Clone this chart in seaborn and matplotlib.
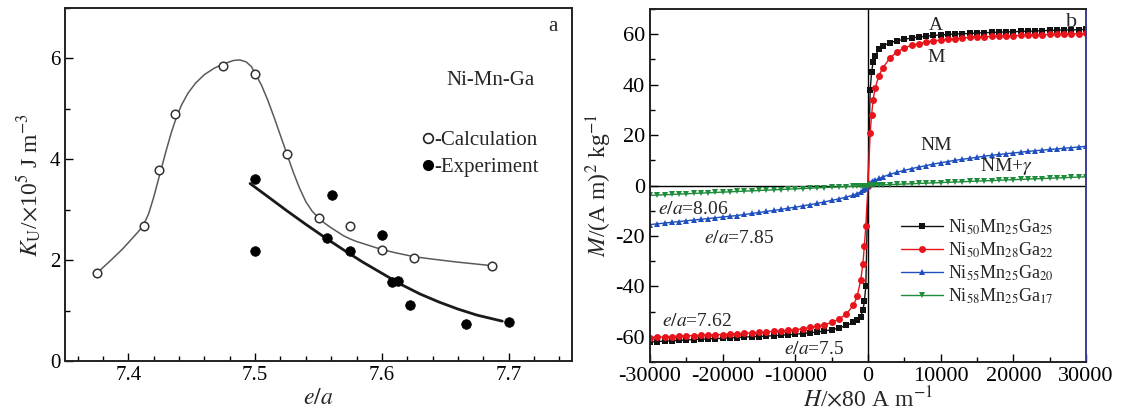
import matplotlib
matplotlib.use('Agg')
import matplotlib.pyplot as plt
import seaborn as sns
import pandas as pd
from matplotlib.lines import Line2D
from matplotlib.ticker import MultipleLocator

# ---------------- data: panel a ----------------
calc_x = [7.375, 7.4127, 7.4245, 7.437, 7.4746, 7.500, 7.525, 7.550, 7.575, 7.600, 7.625, 7.687]
calc_y = [1.74, 2.68, 3.79, 4.90, 5.85, 5.69, 4.10, 2.84, 2.68, 2.20, 2.05, 1.89]

exp_x = [7.500, 7.500, 7.5605, 7.557, 7.575, 7.600, 7.608, 7.613, 7.622, 7.666, 7.700]
exp_y = [3.60, 2.18, 3.29, 2.44, 2.18, 2.50, 1.56, 1.59, 1.12, 0.73, 0.78]

calc_fit_x = [7.375, 7.385, 7.395, 7.403, 7.408, 7.412, 7.416, 7.420, 7.425, 7.430,
              7.434, 7.438, 7.442, 7.447, 7.453, 7.460, 7.468, 7.476, 7.483, 7.488,
              7.493, 7.497, 7.501, 7.505, 7.510, 7.515, 7.520, 7.525, 7.530, 7.535,
              7.540, 7.545, 7.550, 7.555, 7.560, 7.565, 7.570, 7.575, 7.580, 7.590,
              7.600, 7.610, 7.625, 7.640, 7.660, 7.687]
calc_fit_y = [1.74, 1.97, 2.21, 2.43, 2.57, 2.70, 2.92, 3.25, 3.72, 4.19,
              4.54, 4.84, 5.08, 5.31, 5.51, 5.68, 5.81, 5.90, 5.96, 5.97,
              5.93, 5.84, 5.66, 5.47, 5.17, 4.83, 4.47, 4.11, 3.75, 3.43,
              3.16, 2.97, 2.84, 2.73, 2.64, 2.56, 2.48, 2.42, 2.37, 2.29,
              2.21, 2.15, 2.07, 2.02, 1.96, 1.89]

exp_fit_x = [7.496, 7.510, 7.525, 7.540, 7.555, 7.570, 7.585, 7.600, 7.615, 7.630,
             7.645, 7.660, 7.675, 7.695]
exp_fit_y = [3.52, 3.26, 2.98, 2.71, 2.45, 2.20, 1.96, 1.74, 1.52, 1.33,
             1.17, 1.03, 0.91, 0.79]

# ---------------- data: panel b ----------------
H_pos = [300, 500, 700, 1000, 1500, 2000, 3000, 4000, 5000, 6000, 7000, 8000, 9000, 10000,
         11000, 12000, 13000, 14000, 15000, 16000, 17000, 18000, 19000, 20000, 21000, 22000,
         23000, 24000, 25000, 26000, 27000, 28000, 29000, 30000]

black_pos = [38, 45, 49, 51.5, 54, 55.3, 56.6, 57.4, 58.0, 58.5, 58.9, 59.2, 59.5, 59.7,
             59.9, 60.1, 60.2, 60.3, 60.5, 60.6, 60.7, 60.8, 60.9, 61.0, 61.1, 61.2,
             61.3, 61.4, 61.5, 61.6, 61.7, 61.7, 61.8, 61.9]
black_neg = [-40, -46, -49.5, -52, -53.5, -54.3, -55.5, -56.5, -57.2, -57.7, -58.1, -58.4, -58.7, -59.0,
             -59.2, -59.4, -59.6, -59.7, -59.9, -60.0, -60.1, -60.3, -60.4, -60.6, -60.7, -60.8,
             -61.0, -61.1, -61.3, -61.4, -61.6, -61.7, -61.9, -62.0]

red_pos = [21, 28, 34, 38.8, 43.5, 46.5, 50.5, 53.0, 54.6, 55.6, 56.3, 56.9, 57.3, 57.7,
           58.0, 58.3, 58.5, 58.7, 58.9, 59.0, 59.1, 59.2, 59.3, 59.4, 59.5, 59.6,
           59.7, 59.8, 59.9, 60.0, 60.0, 60.1, 60.2, 60.3]
red_neg = [-16, -24, -31, -37.5, -44, -47.5, -51, -53, -54.3, -55.2, -55.8, -56.3, -56.8, -57.2,
           -57.5, -57.7, -57.9, -58.1, -58.3, -58.5, -58.6, -58.8, -58.9, -59.1, -59.2, -59.3,
           -59.4, -59.5, -59.6, -59.8, -59.9, -60.0, -60.2, -60.3]

blue_pos = [0.8, 1.2, 1.6, 2.1, 2.8, 3.4, 4.4, 5.3, 6.0, 6.7, 7.3, 7.9, 8.5, 9.0,
            9.5, 10.0, 10.4, 10.8, 11.2, 11.6, 12.0, 12.3, 12.6, 12.9, 13.2, 13.5,
            13.8, 14.0, 14.3, 14.5, 14.8, 15.0, 15.3, 15.5]
blue_neg = [-0.9, -1.4, -1.9, -2.5, -3.2, -3.8, -4.6, -5.3, -5.9, -6.5, -7.1, -7.6, -8.1, -8.6,
            -9.0, -9.5, -9.9, -10.3, -10.7, -11.1, -11.5, -11.9, -12.2, -12.5, -12.8, -13.1,
            -13.4, -13.7, -14.0, -14.3, -14.6, -14.9, -15.2, -15.5]

green_pos = [0.05, 0.08, 0.1, 0.15, 0.2, 0.25, 0.35, 0.47, 0.58, 0.70, 0.81, 0.93, 1.04, 1.16,
             1.27, 1.39, 1.50, 1.62, 1.73, 1.85, 1.96, 2.08, 2.19, 2.31, 2.42, 2.54,
             2.65, 2.77, 2.88, 3.00, 3.11, 3.23, 3.34, 3.45]
green_neg = [-0.06, -0.1, -0.13, -0.18, -0.24, -0.3, -0.42, -0.55, -0.68, -0.81, -0.94, -1.07, -1.2, -1.33,
             -1.46, -1.59, -1.72, -1.85, -1.98, -2.11, -2.24, -2.37, -2.50, -2.63, -2.76, -2.89,
             -3.02, -3.15, -3.28, -3.41, -3.54, -3.67, -3.80, -3.93]

sample_labels = ['Ni$_{50}$Mn$_{25}$Ga$_{25}$', 'Ni$_{50}$Mn$_{28}$Ga$_{22}$',
                 'Ni$_{55}$Mn$_{25}$Ga$_{20}$', 'Ni$_{58}$Mn$_{25}$Ga$_{17}$']
sample_colors = ['#111111', '#e8141c', '#1f4fbf', '#1f8c3c']
sample_markers = ['s', 'o', '^', 'v']

# ---------------- style ----------------
sns.set_theme(style='ticks')
plt.rcParams['font.family'] = ['Liberation Serif', 'STIXGeneral', 'DejaVu Serif']
plt.rcParams['mathtext.fontset'] = 'stix'
plt.rcParams['axes.unicode_minus'] = False

fig = plt.figure(figsize=(11.21, 4.15), dpi=100)
W, Hh = 1121, 415
axa = fig.add_axes([65 / W, 1 - 361 / Hh, 507 / W, 353 / Hh])
axb = fig.add_axes([650 / W, 1 - 362 / Hh, 436 / W, 353 / Hh])

# ---------------- panel a ----------------
sns.lineplot(x=calc_fit_x, y=calc_fit_y, ax=axa, color='#5a5a5a', lw=1.1,
             sort=False, estimator=None)
sns.lineplot(x=exp_fit_x, y=exp_fit_y, ax=axa, color='#1a1a1a', lw=2.0,
             sort=False, estimator=None)
sns.scatterplot(x=calc_x, y=calc_y, ax=axa, marker='o', s=38, color='white',
                edgecolor='#333333', linewidth=1.1, zorder=3)
sns.scatterplot(x=exp_x, y=exp_y, ax=axa, marker='o', s=48, color='black',
                edgecolor='black', linewidth=0.5, zorder=3)

axa.set_xlim(7.35, 7.75)
axa.set_ylim(0, 7)
axa.set_xticks([7.4, 7.5, 7.6, 7.7])
axa.set_yticks([0, 2, 4, 6])
axa.xaxis.set_minor_locator(MultipleLocator(0.02))
axa.yaxis.set_minor_locator(MultipleLocator(1))
axa.set_xlabel('$e/a$', fontsize=17, labelpad=2)
axa.set_ylabel('$K_{\\mathrm{U}}$/$\\times$10$^5$ J m$^{-3}$', fontsize=17, labelpad=4)

h_calc = Line2D([], [], ls='none', marker='o', markersize=7, markerfacecolor='white',
                markeredgecolor='#222222', markeredgewidth=1.2)
h_exp = Line2D([], [], ls='none', marker='o', markersize=7, markerfacecolor='black',
               markeredgecolor='black')
axa.legend([h_calc, h_exp], ['-Calculation', '-Experiment'], loc='center left',
           bbox_to_anchor=(0.705, 0.587), frameon=False, fontsize=15,
           handlelength=0.5, handletextpad=0.05, borderpad=0, borderaxespad=0,
           labelspacing=0.35)
axa.text(0.839, 0.794, 'Ni-Mn-Ga', transform=axa.transAxes, fontsize=15,
         ha='center', va='center')
axa.text(0.962, 0.947, 'a', transform=axa.transAxes, fontsize=15,
         ha='center', va='center')

# ---------------- panel b ----------------
H_full = [-h for h in reversed(H_pos)] + [0] + H_pos
rows = []
series = [(black_pos, black_neg), (red_pos, red_neg), (blue_pos, blue_neg), (green_pos, green_neg)]
for lab, (mp, mn) in zip(sample_labels, series):
    M_full = list(reversed(mn)) + [0] + mp
    for h, m in zip(H_full, M_full):
        rows.append({'H': h, 'M': m, 'sample': lab})
df = pd.DataFrame(rows)

axb.axhline(0, color='black', lw=1.0, zorder=1)
axb.axvline(0, color='black', lw=1.0, zorder=1)
sns.lineplot(data=df, x='H', y='M', hue='sample', style='sample',
             hue_order=sample_labels, style_order=sample_labels,
             palette=dict(zip(sample_labels, sample_colors)),
             markers=dict(zip(sample_labels, sample_markers)), dashes=False,
             markersize=5, markeredgewidth=0, linewidth=1.0,
             estimator=None, sort=False, legend=False, ax=axb, zorder=2)

axb.set_xlim(-30000, 30000)
axb.set_ylim(-70, 70)
axb.set_xticks([-30000, -20000, -10000, 0, 10000, 20000, 30000])
axb.set_yticks([-60, -40, -20, 0, 20, 40, 60])
axb.xaxis.set_minor_locator(MultipleLocator(5000))
axb.yaxis.set_minor_locator(MultipleLocator(10))
axb.set_xlabel('$H$/$\\times$80 A m$^{-1}$', fontsize=17, labelpad=0)
axb.set_ylabel('$M$/(A m)$^2$ kg$^{-1}$', fontsize=17, labelpad=1)
axb.spines['right'].set_color('#3c3c96')

handles = [Line2D([], [], color=c, marker=m, markersize=5, lw=1.0, markeredgewidth=0)
           for c, m in zip(sample_colors, sample_markers)]
axb.legend(handles, sample_labels, loc='center', bbox_to_anchor=(0.752, 0.284),
           frameon=False, fontsize=13, handlelength=2.3, handletextpad=0.3,
           borderpad=0, borderaxespad=0, labelspacing=0.2)

fs_note = 14
axb.text(9400, 63.5, 'A', fontsize=fs_note, ha='center', va='center')
axb.text(9400, 50.8, 'M', fontsize=fs_note, ha='center', va='center')
axb.text(9400, 16.0, 'NM', fontsize=fs_note, ha='center', va='center')
axb.text(19000, 7.5, 'NM+$\\gamma$', fontsize=fs_note, ha='center', va='center')
axb.text(28050, 64.5, 'b', fontsize=16, ha='center', va='center')
axb.text(-24100, -9.4, '$e/a$=8.06', fontsize=fs_note, ha='center', va='center')
axb.text(-17700, -21.2, '$e/a$=7.85', fontsize=fs_note, ha='center', va='center')
axb.text(-23600, -53.9, '$e/a$=7.62', fontsize=fs_note, ha='center', va='center')
axb.text(-7460, -65.0, '$e/a$=7.5', fontsize=fs_note, ha='center', va='center')

for ax, fs in ((axa, 15), (axb, 16)):
    ax.tick_params(which='both', direction='in', top=False, right=False,
                   labelsize=fs, width=1.0, colors='black')
    ax.tick_params(which='major', length=6)
    ax.tick_params(which='minor', length=3.5)
    for s in ax.spines.values():
        s.set_linewidth(1.4)
    ax.spines['left'].set_color('#222222')
    ax.spines['bottom'].set_color('#222222')
    ax.spines['top'].set_color('#222222')
axa.spines['right'].set_color('#222222')

fig.savefig('out.png', dpi=100)
